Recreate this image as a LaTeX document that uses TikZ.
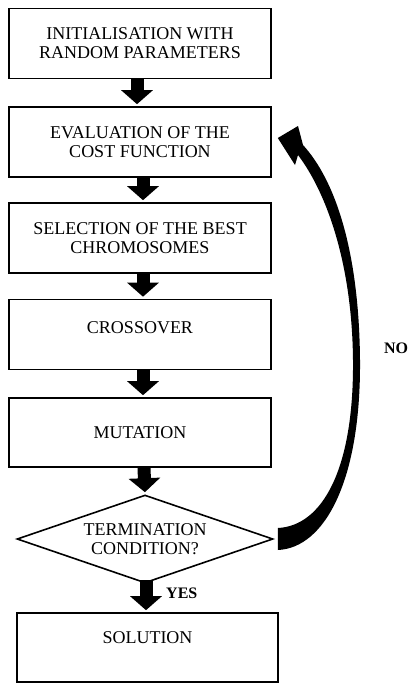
\documentclass[tikz,border=0pt]{standalone}
\usepackage{fontspec}
\setmainfont{Liberation Serif}
\usetikzlibrary{shapes.geometric,arrows.meta,calc}
\begin{document}
\begin{tikzpicture}[x=1pt,y=-1pt,
  stepbox/.style={draw,line width=1.6pt,rectangle,minimum width=262pt,minimum height=70pt,inner sep=0pt,align=center,font=\fontsize{18}{19}\selectfont},
  decision/.style={draw,line width=1.6pt,diamond,aspect=2.9,minimum width=256pt,minimum height=88pt,inner sep=0pt,align=center,font=\fontsize{18}{19}\selectfont},
  blockarrow/.style={line width=13pt,-{Triangle[width=31pt,length=14pt]},shorten >=2pt},
  lbl/.style={font=\fontsize{16}{18}\selectfont\bfseries,inner sep=0pt}]
\useasboundingbox (0,0) rectangle (410,683);
\node[stepbox] (b1) at (140,43.5) {INITIALISATION WITH\\RANDOM PARAMETERS};
\node[stepbox] (b2) at (140,142) {EVALUATION OF THE\\COST FUNCTION};
\node[stepbox] (b3) at (140,238) {SELECTION OF THE BEST\\CHROMOSOMES};
\node[stepbox,text depth=14pt] (b4) at (140,334.5) {CROSSOVER};
\node[stepbox,minimum height=69pt] (b5) at (140,432.5) {MUTATION};
\node[decision] (dia) at (145,539) {TERMINATION\\CONDITION?};
\node[stepbox,minimum width=261pt,minimum height=69pt,text depth=20pt] (sol) at (147.5,647.5) {SOLUTION};
\draw[blockarrow] ([xshift=-3pt]b1.south) -- ([xshift=-3pt]b2.north);
\draw[blockarrow] ([xshift=3pt]b2.south) -- ([xshift=3pt]b3.north);
\draw[blockarrow] ([xshift=3pt]b3.south) -- ([xshift=3pt]b4.north);
\draw[blockarrow] ([xshift=3pt]b4.south) -- ([xshift=3pt]b5.north);
\draw[blockarrow] ([xshift=4pt]b5.south) -- (dia.north);
\draw[blockarrow,shorten <=-4pt] ([xshift=1pt]dia.south) -- ([xshift=-1.5pt]sol.north);
\node[lbl,anchor=west] (yes) at (166,593) {YES};
\node[lbl] (no) at (396,348) {NO};
\fill ($(dia.east)+(4,11)$) .. controls (325,548) and (361,480) .. (360,360)
  .. controls (359,250) and (335,180) .. (303,145)
  -- (298,126) -- ($(b2.east)+(6,-4)$) -- (295,165) -- (298,155)
  .. controls (326,192) and (352,262) .. (353,360)
  .. controls (354,470) and (322,526) .. ($(dia.east)+(4,-11)$) -- cycle;
\end{tikzpicture}
\end{document}
